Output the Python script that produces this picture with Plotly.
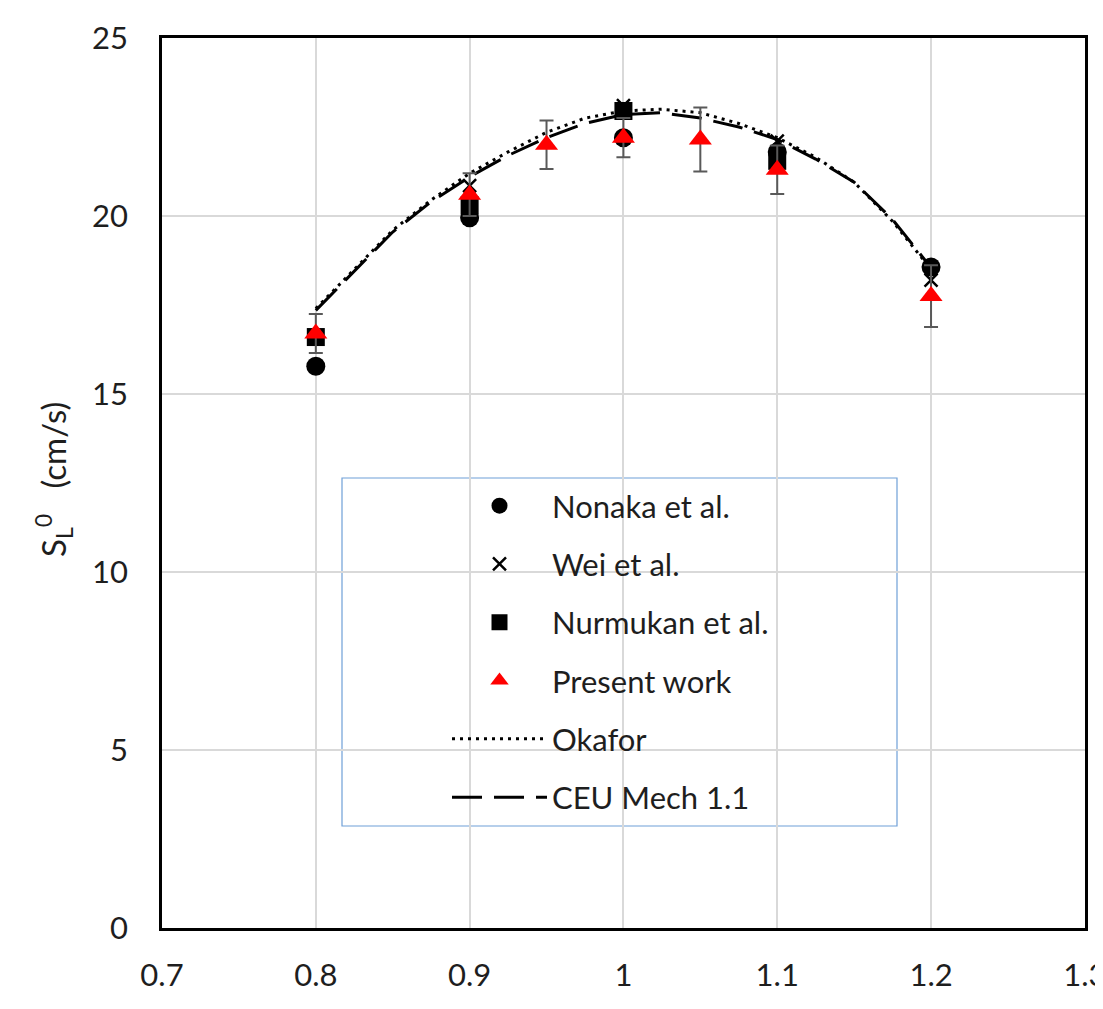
import plotly.graph_objects as go

# ---- data ----
phi_curve = [0.800, 0.825, 0.850, 0.875, 0.900, 0.925, 0.950, 0.975, 1.000,
             1.025, 1.050, 1.075, 1.100, 1.125, 1.150, 1.175, 1.200]
ceu_mech = [17.35, 18.45, 19.55, 20.40, 21.10, 21.70, 22.20, 22.60, 22.85,
            22.90, 22.75, 22.50, 22.15, 21.60, 20.95, 19.90, 18.55]
okafor = [17.40, 18.50, 19.60, 20.45, 21.20, 21.80, 22.35, 22.75, 22.95,
          23.00, 22.90, 22.60, 22.20, 21.65, 20.95, 19.85, 18.50]

nonaka_phi = [0.8, 0.9, 1.0, 1.1, 1.2]
nonaka_sl = [15.78, 19.95, 22.2, 21.8, 18.57]

wei_phi = [0.8, 0.9, 1.0, 1.1, 1.2]
wei_sl = [16.6, 20.85, 23.1, 22.1, 18.2]

nurmukan_phi = [0.8, 0.9, 1.0, 1.1]
nurmukan_sl = [16.6, 20.3, 22.95, 21.55]

present_phi = [0.8, 0.9, 0.95, 1.0, 1.05, 1.1, 1.2]
present_sl = [16.7, 20.6, 22.0, 22.2, 22.15, 21.3, 17.75]
present_err = [0.55, 0.6, 0.68, 0.55, 0.9, 0.68, 0.87]

x_ticks = [0.7, 0.8, 0.9, 1.0, 1.1, 1.2, 1.3]
x_ticktext = ["0.7", "0.8", "0.9", "1", "1.1", "1.2", "1.3"]
y_ticks = [0, 5, 10, 15, 20, 25]
y_title = "S<sub>L</sub><sup>0</sup>&nbsp;&nbsp;&nbsp;(cm/s)"

FONT = "Lato"
OFF = 8  # page body margin
W, H = 1103 - OFF, 1009 - OFF
ML, MR, MT, MB = 162 - OFF, 18, 38 - OFF, 81
TXT = "#1e1e1e"

fig = go.Figure()

fig.add_trace(go.Scatter(
    x=phi_curve, y=okafor, mode="lines", name="Okafor",
    line=dict(color="black", width=3, dash="3px,5px"),
    legendgroup="e", legendrank=5))
fig.add_trace(go.Scatter(
    x=phi_curve, y=ceu_mech, mode="lines", name="CEU Mech 1.1",
    line=dict(color="black", width=3, dash="30px,12px"),
    legendgroup="f", legendrank=6))

fig.add_trace(go.Scatter(
    x=nonaka_phi, y=nonaka_sl, mode="markers", name="Nonaka et al.",
    marker=dict(symbol="circle", size=19, color="black"),
    legendgroup="a", legendrank=1))
fig.add_trace(go.Scatter(
    x=wei_phi, y=wei_sl, mode="markers", name="Wei et al.",
    marker=dict(symbol="x-thin", size=13, color="black",
                line=dict(color="black", width=2.5)),
    legendgroup="b", legendrank=2))
fig.add_trace(go.Scatter(
    x=nurmukan_phi, y=nurmukan_sl, mode="markers", name="Nurmukan et al.",
    marker=dict(symbol="square", size=18, color="black"),
    legendgroup="c", legendrank=3))
fig.add_trace(go.Scatter(
    x=present_phi, y=present_sl, mode="markers", name="Present work",
    marker=dict(symbol="triangle-up", size=20, color="#ff0000"),
    error_y=dict(type="data", array=present_err, visible=True,
                 color="#595959", thickness=2, width=7),
    legendgroup="d", legendrank=4))

# legend frame (paper coords), positions given in page pixels
plot_w = W - ML - MR
plot_h = H - MT - MB
def px2paper_x(px):
    return (px - OFF - ML) / plot_w
def px2paper_y(py):
    return (H - MB - (py - OFF)) / plot_h

fig.add_shape(type="rect", xref="paper", yref="paper",
              x0=px2paper_x(342), x1=px2paper_x(897),
              y0=px2paper_y(826), y1=px2paper_y(478),
              line=dict(color="#6fa0d8", width=1.2), fillcolor="white",
              layer="below")

# y-axis title as rotated text
fig.add_annotation(text=y_title, xref="paper", yref="paper",
                   x=px2paper_x(53), y=px2paper_y(480),
                   xanchor="center", yanchor="middle", textangle=-90,
                   showarrow=False,
                   font=dict(family=FONT, size=33, color=TXT))

fig.update_layout(
    width=W, height=H,
    margin=dict(l=ML, r=MR, t=MT, b=MB),
    paper_bgcolor="white", plot_bgcolor="white",
    font=dict(family=FONT, size=30, color=TXT),
    showlegend=True,
    legend=dict(
        x=px2paper_x(447), y=px2paper_y(479),
        xanchor="left", yanchor="top",
        bgcolor="rgba(0,0,0,0)", borderwidth=0,
        font=dict(family=FONT, size=31, color=TXT),
        itemwidth=95, tracegroupgap=15, traceorder="grouped",
    ),
    xaxis=dict(
        range=[0.7, 1.3001], tickvals=x_ticks, ticktext=x_ticktext,
        showgrid=True, gridcolor="#d9d9d9", gridwidth=1.5,
        showline=True, linecolor="black", linewidth=2.5, mirror=True,
        zeroline=False, ticks="", ticklabelstandoff=18,
        ticklabeloverflow="allow", automargin=False,
        tickfont=dict(family=FONT, size=31, color=TXT),
    ),
    yaxis=dict(
        range=[0, 25], tickvals=y_ticks,
        showgrid=True, gridcolor="#d9d9d9", gridwidth=1.5,
        showline=True, linecolor="black", linewidth=2.5, mirror=True,
        zeroline=False, ticks="", ticklabelstandoff=25, automargin=False,
        tickfont=dict(family=FONT, size=31, color=TXT),
    ),
)

fig.write_html("out.html")
